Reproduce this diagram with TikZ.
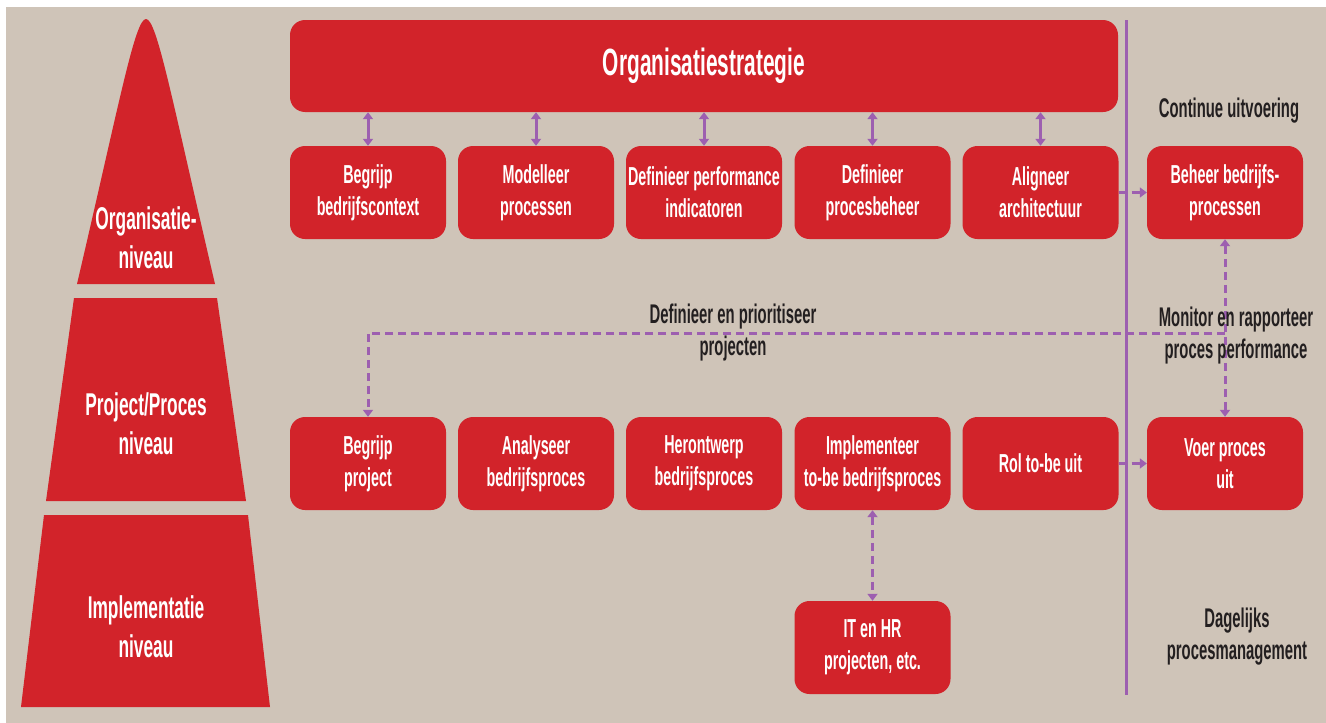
\documentclass[tikz,border=0pt]{standalone}
\usepackage{fontspec}
\setmainfont{Liberation Sans}[FakeStretch=0.55]
\usetikzlibrary{arrows.meta}

\definecolor{rood}{HTML}{D2232A}
\definecolor{zand}{HTML}{CFC4B8}
\definecolor{paars}{HTML}{9D5FB0}
\definecolor{inkt}{HTML}{231F20}

\tikzset{
  blok/.style = {rectangle, rounded corners = 15pt, fill = rood, text = white,
    minimum width = 156pt, minimum height = 93pt, inner sep = 0pt, align = center,
    font = \bfseries\fontsize{26}{32}\selectfont},
  laag/.style = {text = white, align = center, font = \bfseries\fontsize{31.5}{39}\selectfont},
  uitleg/.style = {text = inkt, align = center, font = \bfseries\fontsize{27}{32}\selectfont},
  punt/.tip = {Triangle[width = 10pt, length = 7pt]},
  pijl/.style = {paars, line width = 3pt, punt-punt},
  stippel/.style = {paars, line width = 3pt, dash pattern = on 8pt off 5pt, -punt},
  stippel2/.style = {stippel, punt-punt}
}

\begin{document}
\begin{tikzpicture}[x = 1pt, y = -1pt]
\useasboundingbox (0, 0) rectangle (1326, 723);
\fill[zand] (6, 7) rectangle (1326, 723);

% piramide links
\fill[rood] (77, 284) .. controls (120, 100) and (135, 19) .. (146, 19)
  .. controls (157, 19) and (172, 100) .. (215, 284) -- cycle;
\fill[rood] (74, 298) -- (217, 298) -- (246, 501) -- (46, 501) -- cycle;
\fill[rood] (44, 515) -- (248, 515) -- (270, 707) -- (21, 707) -- cycle;
\node[laag] (org) at (146, 238) {Organisatie-\\niveau};
\node[laag] (proj) at (146, 424) {Project/Proces\\niveau};
\node[laag] (impl) at (146, 627) {Implementatie\\niveau};

% scheidingslijn
\draw[paars, line width = 3pt] (1126, 20) -- (1126, 695);

% strategie
\node[blok, minimum width = 828pt, minimum height = 92pt,
  font = \bfseries\fontsize{38}{40}\selectfont] (strat) at (704, 66) {\raisebox{-3pt}{Organisatiestrategie}};

% organisatieniveau
\node[blok] (bc) at (368, 192.5) {Begrijp\\bedrijfscontext};
\node[blok] (mp) at (536, 192.5) {Modelleer\\processen};
\node[blok] (dpi) at (704, 192.5) {Definieer performance\\indicatoren};
\node[blok] (dpb) at (872.5, 192.5) {Definieer\\procesbeheer};
\node[blok] (al) at (1040.5, 192.5) {Aligneer\\architectuur};
\node[blok] (bh) at (1225, 192.5) {Beheer bedrijfs-\\processen};

% project/procesniveau
\node[blok] (bp) at (368, 463.5) {Begrijp\\project};
\node[blok] (ab) at (536, 463.5) {Analyseer\\bedrijfsproces};
\node[blok] (hb) at (704, 463.5) {Herontwerp\\bedrijfsproces};
\node[blok] (imp) at (872.5, 463.5) {Implementeer\\to-be bedrijfsproces};
\node[blok] (rol) at (1040.5, 463.5) {Rol to-be uit};
\node[blok] (voer) at (1225, 463.5) {Voer proces\\uit};

% implementatieniveau
\node[blok] (ithr) at (872.5, 647.5) {IT en HR\\projecten, etc.};

% verbindingen
\draw[pijl] (strat.south -| bc.north) -- (bc.north);
\draw[pijl] (strat.south -| mp.north) -- (mp.north);
\draw[pijl] (strat.south -| dpi.north) -- (dpi.north);
\draw[pijl] (strat.south -| dpb.north) -- (dpb.north);
\draw[pijl] (strat.south -| al.north) -- (al.north);

\draw[stippel] (al.east) -- (bh.west);
\draw[stippel] (rol.east) -- (voer.west);
\draw[stippel2] (bh.south) -- (voer.north);
\coordinate (hoek) at (1225, 333);
\draw[stippel] (hoek) -| (bp.north);
\draw[stippel2] (imp.south) -- (ithr.north);

% toelichting
\node[uitleg] (cu) at (1229, 111) {Continue uitvoering};
\node[uitleg] (dp) at (733, 333) {Definieer en prioritiseer\\projecten};
\node[uitleg] (mr) at (1236, 336) {Monitor en rapporteer\\proces performance};
\node[uitleg] (dag) at (1237, 637) {Dagelijks\\procesmanagement};
\end{tikzpicture}
\end{document}
